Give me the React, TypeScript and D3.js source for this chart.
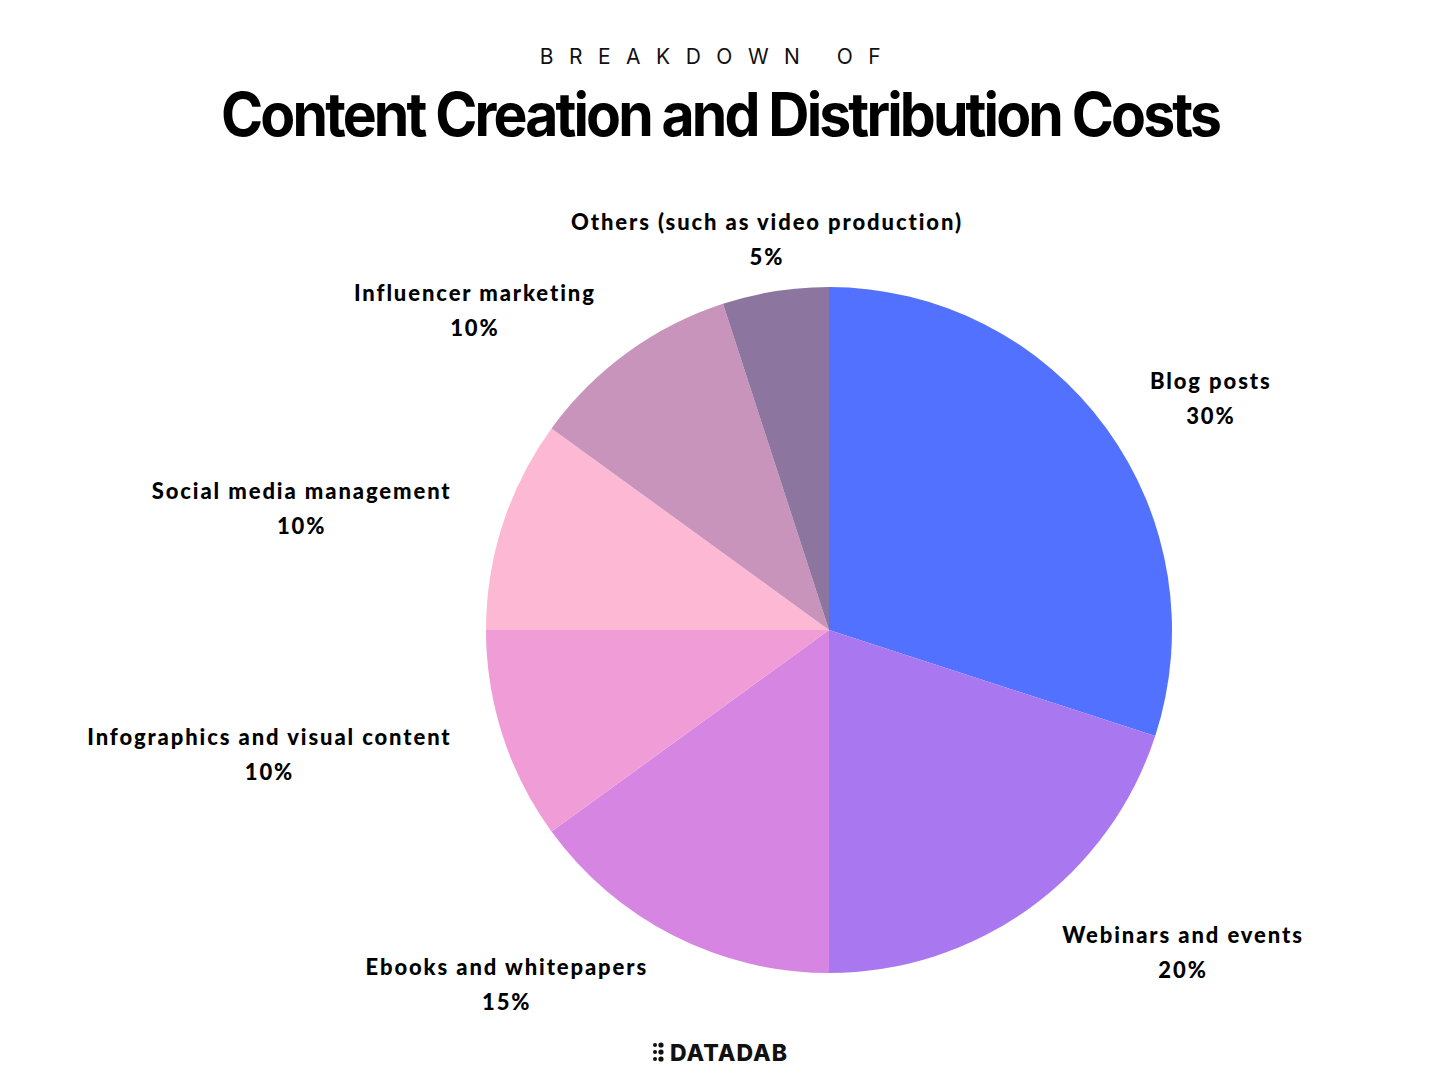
import { useEffect, useRef } from "react";
import * as d3 from "d3";

const categories = [
  "Blog posts",
  "Webinars and events",
  "Ebooks and whitepapers",
  "Infographics and visual content",
  "Social media management",
  "Influencer marketing",
  "Others (such as video production)",
];
const shares = [30, 20, 15, 10, 10, 10, 5];
const colors = ["#5271FF", "#A978F0", "#D685E2", "#F09DD7", "#FDB9D4", "#C994BB", "#8C76A0"];

const W = 1440;
const H = 1080;
const cx = 829;
const cy = 630;
const radius = 343;

export default function App() {
  const ref = useRef<SVGSVGElement>(null);

  useEffect(() => {
    const svg = d3.select(ref.current);
    svg.selectAll("*").remove();

    svg.append("rect").attr("width", W).attr("height", H).attr("fill", "#fff");

    svg
      .append("text")
      .attr("x", 718)
      .attr("y", 64)
      .attr("text-anchor", "middle")
      .attr("font-family", "Inter, 'Open Sans', sans-serif")
      .attr("font-size", 21)
      .attr("letter-spacing", 15.5)
      .attr("fill", "#111")
      .text("BREAKDOWN OF");

    svg
      .append("text")
      .attr("x", 720)
      .attr("y", 136)
      .attr("text-anchor", "middle")
      .attr("font-family", "Inter, sans-serif")
      .attr("font-weight", 700)
      .attr("font-size", 60)
      .attr("letter-spacing", -3)
      .attr("textLength", 998)
      .attr("lengthAdjust", "spacingAndGlyphs")
      .attr("fill", "#000")
      .text("Content Creation and Distribution Costs");

    const data = categories.map((c, i) => ({ name: c, value: shares[i], color: colors[i] }));
    const pie = d3
      .pie<{ name: string; value: number; color: string }>()
      .value((d) => d.value)
      .sort(null);
    const arc = d3
      .arc<d3.PieArcDatum<{ name: string; value: number; color: string }>>()
      .innerRadius(0)
      .outerRadius(radius);

    const arcs = pie(data);
    const g = svg.append("g").attr("transform", `translate(${cx},${cy})`);
    g.selectAll("path")
      .data(arcs)
      .join("path")
      .attr("d", arc)
      .attr("fill", (d) => d.data.color);

    // labels on a circle outside the pie, slid up along it near the bottom edge
    const labelR = radius * 1.157;
    const maxY = labelR * 0.89;
    arcs.forEach((a) => {
      let ang = (a.startAngle + a.endAngle) / 2;
      let x = labelR * Math.sin(ang);
      let y = -labelR * Math.cos(ang);
      if (y > maxY) {
        const base = Math.acos(-maxY / labelR);
        ang = x < 0 ? 2 * Math.PI - base : base;
        x = labelR * Math.sin(ang);
        y = maxY;
      }
      const s = Math.sin(ang);
      const anchor = Math.abs(s) < 0.2 ? "middle" : s > 0 ? "start" : "end";
      const t = g
        .append("text")
        .attr("text-anchor", anchor)
        .attr("font-family", "Lato, sans-serif")
        .attr("font-weight", 900)
        .attr("font-size", 22)
        .attr("letter-spacing", 1.9)
        .attr("fill", "#000");
      const nameSpan = t.append("tspan").attr("x", x).attr("y", y - 8).text(a.data.name);
      const nameW = (nameSpan.node() as SVGTSpanElement).getComputedTextLength();
      const px = anchor === "start" ? x + nameW / 2 : anchor === "end" ? x - nameW / 2 : x;
      t.append("tspan")
        .attr("x", px)
        .attr("y", y + 27)
        .attr("text-anchor", "middle")
        .text(`${a.data.value}%`);
    });

    // logo
    const logo = svg.append("g").attr("transform", "translate(720,1052)");
    const dots = [
      [0, 0], [0, 1], [0, 2], [1, 0], [1, 1], [1, 2],
    ];
    logo
      .selectAll("circle")
      .data(dots)
      .join("circle")
      .attr("cx", (d) => -65 + d[0] * 6)
      .attr("cy", (d) => -7 + d[1] * 7)
      .attr("r", (d) => (d[0] === 1 ? 2.6 : 2))
      .attr("fill", "#111");
    logo
      .append("text")
      .attr("x", -50)
      .attr("y", 9)
      .attr("font-family", "Inter, sans-serif")
      .attr("font-weight", 800)
      .attr("font-size", 23)
      .attr("letter-spacing", 1)
      .attr("fill", "#111")
      .text("DATADAB");
  }, []);

  return <svg ref={ref} width={W} height={H} style={{ display: "block", margin: -8 }} />;
}
